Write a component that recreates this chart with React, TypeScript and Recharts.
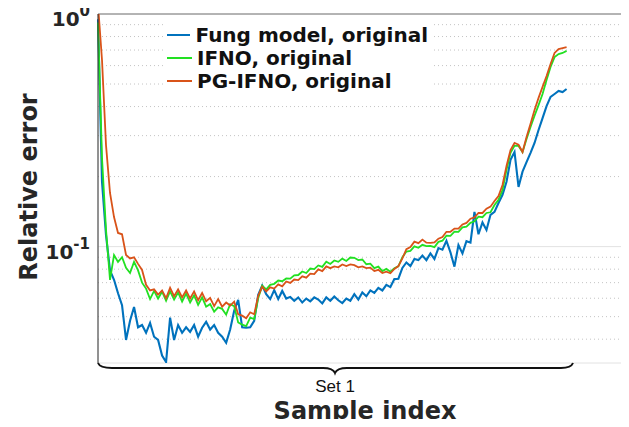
import { LineChart, Line, XAxis, YAxis, CartesianGrid, ReferenceLine, Legend } from "recharts";

// relative error per sample (one value every 9 samples)
const fungModel = [
  0.95, 0.19, 0.112, 0.079, 0.072, 0.063, 0.056, 0.0397, 0.048, 0.055,
  0.045, 0.046, 0.0426, 0.047, 0.041, 0.0397, 0.034, 0.0319, 0.0495, 0.0397,
  0.046, 0.0426, 0.045, 0.043, 0.046, 0.041, 0.0448, 0.0475, 0.044, 0.046,
  0.0426, 0.041, 0.0386, 0.044, 0.053, 0.059, 0.045, 0.0448, 0.045, 0.048,
  0.062, 0.068, 0.0625, 0.0595, 0.065, 0.0595, 0.0645, 0.0598, 0.0608, 0.0585,
  0.0605, 0.0575, 0.0598, 0.0582, 0.0605, 0.0592, 0.057, 0.0605, 0.0585, 0.061,
  0.0588, 0.0572, 0.0598, 0.0585, 0.0625, 0.0592, 0.0635, 0.0612, 0.0648, 0.0632,
  0.0665, 0.0648, 0.0685, 0.067, 0.0725, 0.0728, 0.081, 0.0855, 0.0825, 0.0885,
  0.0875, 0.0915, 0.0875, 0.0935, 0.0885, 0.0985, 0.097, 0.106, 0.0945, 0.082,
  0.1015, 0.0935, 0.1055, 0.104, 0.141, 0.113, 0.127, 0.118, 0.137, 0.141,
  0.154, 0.167, 0.19, 0.236, 0.255, 0.1805, 0.21, 0.231, 0.253, 0.279,
  0.317, 0.357, 0.402, 0.44, 0.453, 0.467, 0.462, 0.476,
];

const ifno = [
  0.92, 0.24, 0.118, 0.072, 0.092, 0.086, 0.09, 0.081, 0.077, 0.086,
  0.079, 0.07, 0.066, 0.0595, 0.0645, 0.0598, 0.064, 0.0585, 0.0642, 0.0592,
  0.0635, 0.058, 0.0628, 0.0575, 0.0618, 0.0562, 0.0605, 0.0552, 0.0566, 0.0525,
  0.0548, 0.054, 0.051, 0.0565, 0.0555, 0.0472, 0.0462, 0.0455, 0.0495, 0.0488,
  0.06, 0.068, 0.0655, 0.0685, 0.0692, 0.0715, 0.071, 0.073, 0.0728, 0.0752,
  0.0755, 0.0782, 0.077, 0.0805, 0.08, 0.083, 0.0818, 0.0862, 0.0842, 0.0872,
  0.086, 0.0888, 0.0868, 0.0898, 0.0895, 0.0875, 0.088, 0.084, 0.0845, 0.0808,
  0.082, 0.0785, 0.0802, 0.078, 0.0808, 0.0822, 0.09, 0.0952, 0.0958, 0.1002,
  0.0988, 0.1018, 0.1005, 0.1008, 0.0995, 0.1048, 0.106, 0.1115, 0.1112, 0.116,
  0.1158, 0.121, 0.1218, 0.1265, 0.1285, 0.1345, 0.1338, 0.1395, 0.1405, 0.151,
  0.159, 0.175, 0.214, 0.253, 0.271, 0.271, 0.255, 0.29, 0.327, 0.365,
  0.406, 0.453, 0.52, 0.592, 0.653, 0.673, 0.68, 0.694,
];

const pgIfno = [
  1.1, 0.634, 0.273, 0.17, 0.134, 0.1145, 0.113, 0.092, 0.089, 0.09,
  0.0843, 0.0794, 0.0685, 0.0648, 0.0655, 0.0622, 0.0648, 0.06, 0.0665, 0.0612,
  0.0655, 0.0605, 0.0648, 0.0598, 0.0642, 0.0588, 0.0632, 0.0582, 0.0602, 0.0555,
  0.0595, 0.0552, 0.0575, 0.0558, 0.058, 0.0512, 0.0505, 0.0492, 0.0522, 0.0512,
  0.0614, 0.0672, 0.0642, 0.0668, 0.066, 0.0688, 0.0675, 0.0708, 0.0698, 0.0722,
  0.0718, 0.0745, 0.0735, 0.0765, 0.0762, 0.0798, 0.0785, 0.0822, 0.0808, 0.0822,
  0.0815, 0.0838, 0.0825, 0.0838, 0.0832, 0.0815, 0.0822, 0.0808, 0.0812, 0.0785,
  0.0795, 0.077, 0.078, 0.0768, 0.0802, 0.0825, 0.089, 0.0975, 0.0995, 0.105,
  0.1035, 0.1072, 0.104, 0.1038, 0.1042, 0.1082, 0.11, 0.1158, 0.1158, 0.1195,
  0.1195, 0.1245, 0.1265, 0.1318, 0.1335, 0.1395, 0.1395, 0.1455, 0.1485, 0.157,
  0.165, 0.184, 0.222, 0.26, 0.279, 0.274, 0.255, 0.296, 0.337, 0.387,
  0.436, 0.486, 0.541, 0.61, 0.68, 0.707, 0.714, 0.721,
];

const SAMPLE_STEP = 9;
const xTicks = [0, 400, 800, 1200];
const yTicks = [0.1, 1];
const minorTicks = [0.04, 0.05, 0.06, 0.07, 0.08, 0.09, 0.2, 0.3, 0.4, 0.5, 0.6, 0.7, 0.8, 0.9];

const series = [
  { key: "fung", name: "Fung model, original", color: "#0072BD", width: 2.1 },
  { key: "ifno", name: "IFNO, original", color: "#22e022", width: 1.8 },
  { key: "pg", name: "PG-IFNO, original", color: "#D95319", width: 1.8 },
];

const data = fungModel.map((v, i) => ({
  sample: i * SAMPLE_STEP,
  fung: v,
  ifno: ifno[i],
  pg: pgIfno[i],
}));

const FONT = '"DejaVu Sans", sans-serif';

function PowerTick({ y, payload }: { y?: number; payload?: { value: number } }) {
  if (y == null || !payload) return null;
  const exp = Math.round(Math.log10(payload.value));
  return (
    <text x={90} y={y + 12} textAnchor="end" fontFamily={FONT} fontWeight="bold" fontSize={20} fill="#262626">
      <tspan>10</tspan>
      <tspan dy={-10} fontSize={15}>{exp}</tspan>
    </text>
  );
}

function LegendBox() {
  return (
    <div style={{ background: "#fff", padding: "5px 4px", fontFamily: FONT, fontWeight: "bold", fontSize: 20, color: "#111" }}>
      {series.map((s) => (
        <div key={s.key} style={{ display: "flex", alignItems: "center", height: 23, whiteSpace: "nowrap" }}>
          <span style={{ display: "inline-block", width: 25, height: 2, background: s.color, marginRight: 5 }} />
          {s.name}
        </div>
      ))}
    </div>
  );
}

export default function App() {
  return (
    <div style={{ position: "relative", width: 629, height: 427, overflow: "hidden", margin: -8, background: "#fff" }}>
      <LineChart width={640} height={427} data={data} margin={{ top: 14, right: 8, bottom: 64, left: 0 }}>
        <CartesianGrid stroke="#e2e2e2" />
        <XAxis
          dataKey="sample" type="number" domain={[0, 1200]} ticks={xTicks}
          tick={false} tickLine={false} height={0} stroke="#333"
        />
        <YAxis
          scale="log" domain={[0.0316, 1]} ticks={yTicks} allowDataOverflow interval={0}
          width={98} tickLine={false} tick={(p: any) => <PowerTick {...p} />} stroke="#333"
        />
        {minorTicks.map((m) => (
          <ReferenceLine key={m} y={m} stroke="#c4c4c4" strokeDasharray="1 3" />
        ))}
        <ReferenceLine y={1} stroke="#777" />
        <Legend
          layout="vertical" align="center" verticalAlign="middle"
          content={<LegendBox />}
          wrapperStyle={{ left: 163, top: 18, width: 269 }}
        />
        {series.map((s) => (
          <Line
            key={s.key} dataKey={s.key} name={s.name} stroke={s.color} strokeWidth={s.width}
            dot={false} isAnimationActive={false} type="linear"
          />
        ))}
      </LineChart>
      <svg width={629} height={427} style={{ position: "absolute", left: 0, top: 0, pointerEvents: "none" }}>
        <path
          d="M98,363 Q100,368 112,368 L323,368 Q333,368 335,373 Q337,368 347,368 L561,368 Q571,368 573,363"
          fill="none" stroke="#111" strokeWidth={2}
        />
        <text x={335} y={392} textAnchor="middle" fontFamily='"Liberation Sans", Arial, sans-serif' fontSize={17} fill="#111">
          Set 1
        </text>
        <text x={365} y={419} textAnchor="middle" fontFamily={FONT} fontWeight="bold" fontSize={24} fill="#262626">
          Sample index
        </text>
        <text
          x={37} y={187} textAnchor="middle" fontFamily={FONT} fontWeight="bold" fontSize={24} fill="#262626"
          transform="rotate(-90 37 187)"
        >
          Relative error
        </text>
      </svg>
    </div>
  );
}
